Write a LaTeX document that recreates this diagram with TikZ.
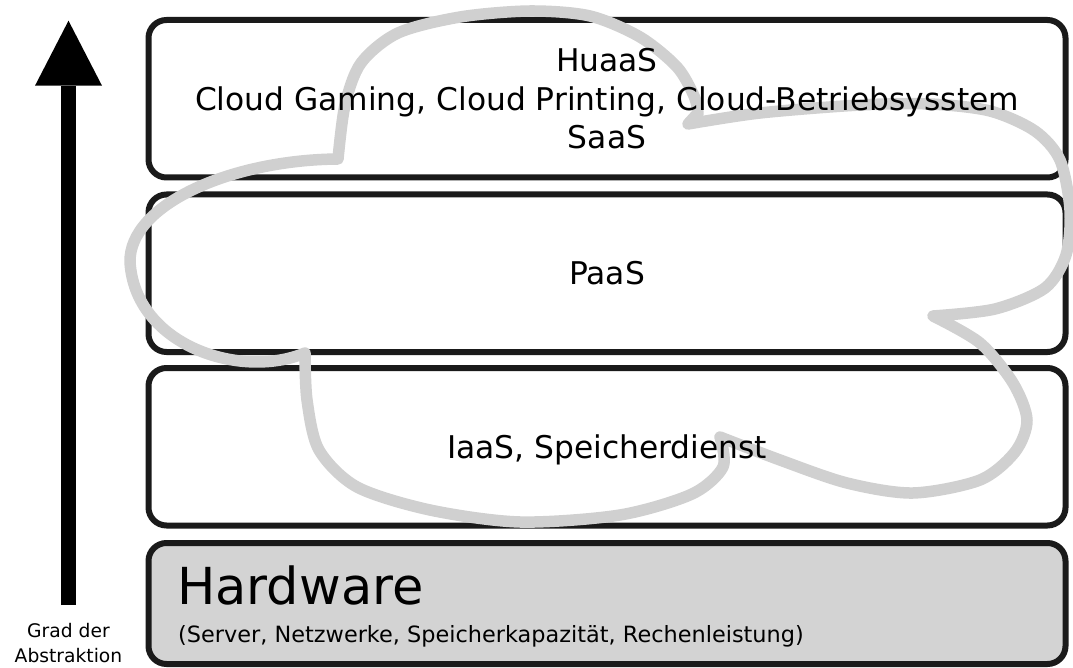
\documentclass[tikz,border=0pt]{standalone}
\usepackage{fontspec}
\setmainfont{DejaVu Sans}
\usetikzlibrary{arrows.meta}
\definecolor{boxline}{HTML}{1A1A1A}
\definecolor{cloudgray}{HTML}{D0D0D0}
\definecolor{hwgray}{HTML}{D3D3D3}
\begin{document}
\begin{tikzpicture}[x=1pt,y=-1pt,
  layerbox/.style={draw=boxline, line width=6pt, rounded corners=18pt,
    minimum width=917pt, minimum height=157.5pt, inner sep=0pt, outer sep=0pt},
  cloudline/.style={draw=cloudgray, line width=11.5pt, line join=round},
  layertext/.style={font=\fontsize{31.3}{38.5}\selectfont, align=center, inner sep=0pt},
  hwtitle/.style={font=\fontsize{51}{60}\selectfont, inner sep=0pt, anchor=base west},
  hwsub/.style={font=\fontsize{22.4}{26}\selectfont, inner sep=0pt, anchor=base west},
  sidetext/.style={font=\fontsize{18.7}{25}\selectfont, align=center, inner sep=0pt},
  bigarrow/.style={line width=15pt, -{Triangle[width=67pt,length=65pt,line width=0pt]}}
]
\useasboundingbox (0,0) rectangle (1073,668);
% layers
\node[layerbox] (L1) at (607,98.75) {};
\node[layerbox] (L2) at (607,273.25) {};
\node[layerbox] (L3) at (607,446.75) {};
\node[layerbox, fill=hwgray, minimum height=121pt] (L4) at (607,603.5) {};
% cloud
\draw[cloudline]
  plot[smooth] coordinates {(338,159) (345,105) (361,63) (398,33) (460,17) (530,11) (590,16) (640,37) (677,67) (694,96) (698,113)}
  -- (688,124)
  -- plot[smooth] coordinates {(688,124) (760,113) (860,105) (930,104) (990,111) (1035,131) (1060,160) (1070,210) (1066,255) (1045,288) (995,309) (933,316)}
  -- plot[smooth] coordinates {(933,316) (980,343) (1013,383) (1027,420) (1015,452) (980,480) (913,493) (847,483) (780,460) (720,437)}
  -- plot[smooth] coordinates {(720,437) (723,467) (692,494) (620,515) (520,522) (430,510) (357,487) (319,450) (307,400) (305,353)}
  .. controls (240,380) and (135,345) .. (130,262)
  .. controls (129,205) and (230,160) .. (338,159)
  -- cycle;
% texts
\node[layertext] (T1) at (607,98.75) {HuaaS\\Cloud Gaming, Cloud Printing, Cloud-Betriebsysstem\\SaaS};
\node[layertext, anchor=base] (T2) at (607,284.5) {PaaS};
\node[layertext, anchor=base] (T3) at (607,458) {IaaS, Speicherdienst};
\node[hwtitle] (T4) at (177,604) {Hardware};
\node[hwsub] (T5) at (178,642) {(Server, Netzwerke, Speicherkapazität, Rechenleistung)};
% abstraction arrow
\coordinate (abase) at (68.5,605);
\coordinate (atip) at (68.5,20.7);
\draw[bigarrow] (abase) -- (atip);
\node[sidetext] (side) at (68.5,643.5) {Grad der\\Abstraktion};
\end{tikzpicture}
\end{document}
